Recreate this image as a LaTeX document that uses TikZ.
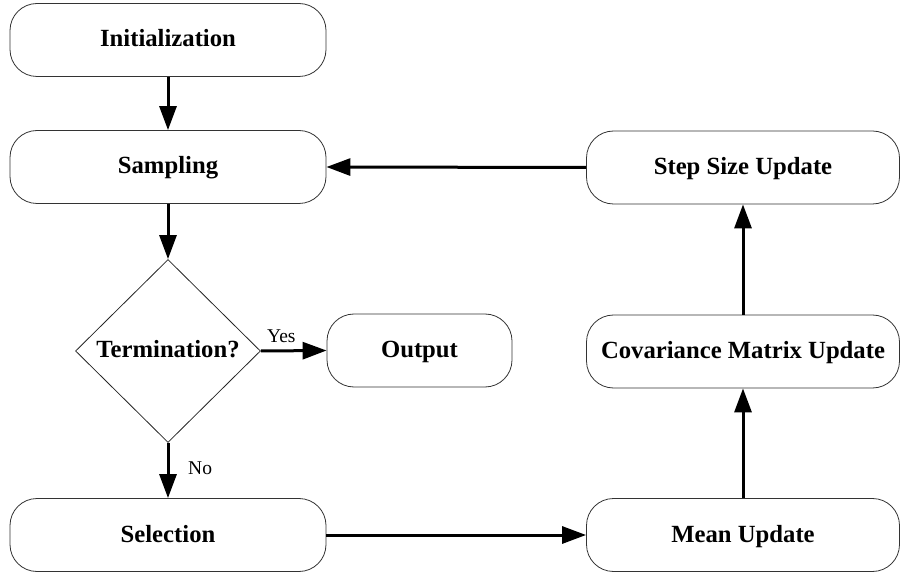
\documentclass[tikz,border=0pt]{standalone}
\usepackage{fontspec}
\setmainfont{Liberation Serif}
\usetikzlibrary{arrows.meta,shapes.geometric}

\tikzset{
  boxfont/.style={font=\bfseries\fontsize{24.7}{28}\selectfont,
    text height=19pt, text depth=5pt},
  procbox/.style={draw=black!80, line width=0.8pt, rounded corners=27pt,
    minimum height=73pt, inner sep=0pt, boxfont},
  widebox/.style={procbox, minimum width=316pt},
  rightbox/.style={procbox, minimum width=313pt},
  smallbox/.style={procbox, minimum width=185pt},
  decision/.style={draw=black!85, line width=0.8pt, diamond, inner sep=0pt,
    minimum width=185pt, minimum height=183pt, boxfont},
  flow/.style={line width=3pt, -{Triangle[length=24pt,width=17pt]}},
  branch/.style={font=\fontsize{19.5}{22}\selectfont, inner sep=0pt}
}

\begin{document}
\begin{tikzpicture}[x=1pt,y=-1pt]
  \useasboundingbox (0,0) rectangle (900,577);

  % left column
  \node[widebox] (init) at (168,40)  {Initialization};
  \node[widebox] (samp) at (168,167) {Sampling};
  \node[decision] (term) at (168,351) {Termination?};
  \node[widebox] (sel)  at (168,535) {Selection};

  % output
  \node[smallbox] (out) at (419.5,350.5) {Output};

  % right column
  \node[rightbox] (mean) at (743,535)   {Mean Update};
  \node[rightbox] (cov)  at (743,351.5) {Covariance Matrix Update};
  \node[rightbox] (step) at (743,167.5) {Step Size Update};

  % connectors
  \draw[flow] (init) -- (samp);
  \draw[flow] (samp) -- (term);
  \draw[flow] (term.east) -- (out.west);
  \draw[flow] (term.south) -- (sel.north);
  \draw[flow] (sel.east) -- (mean.west);
  \draw[flow] (mean.north) -- (cov.south);
  \draw[flow] (cov.north) -- (step.south);
  \draw[flow] (step.west) -- (samp.east);

  % branch labels
  \node[branch, anchor=base west] (yes) at (267,343) {Yes};
  \node[branch, anchor=base west] (no)  at (188,474) {No};
\end{tikzpicture}
\end{document}
